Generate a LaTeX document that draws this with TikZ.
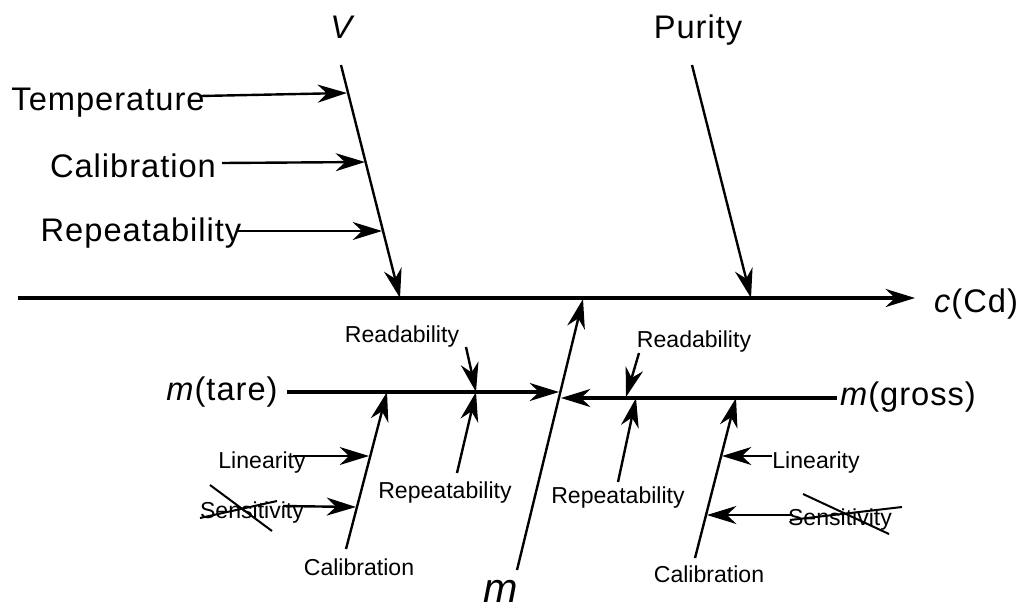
\documentclass[tikz,border=0pt]{standalone}
\usepackage{fontspec}
\setmainfont{Liberation Sans}
\newfontfamily\spacedfont[LetterSpace=3]{Liberation Sans}
\usetikzlibrary{arrows.meta}
\begin{document}
\begin{tikzpicture}[x=0.75pt,y=-0.75pt,
  big/.style={font=\spacedfont\fontsize{24.5}{28}\selectfont, anchor=base, inner sep=0pt},
  bigm/.style={font=\fontsize{31}{34}\selectfont\itshape, anchor=base, inner sep=0pt},
  small/.style={font=\fontsize{17.3}{20}\selectfont, anchor=base, inner sep=0pt},
  spine/.style={line width=2.8pt},
  bone/.style={line width=1.8pt},
  tip/.style={-{Stealth[length=22pt,width=13.5pt,inset=7pt]}},
  strike/.style={line width=1.5pt}]
\useasboundingbox (0,0) rectangle (1027,611);

% main spine
\coordinate (s0) at (18,298);
\coordinate (s1) at (915,298);
\draw[spine,tip] (s0) -- (s1);
\node[big] (cd) at (976,312) {\textit{c}(Cd)};

% V branch
\node[big] (V) at (343,38) {\textit{V}};
\coordinate (v0) at (341,65);
\coordinate (v1) at (400,298);
\draw[bone,tip] (v0) -- (v1);
\node[big] (temp) at (108,110) {Temperature};
\coordinate (tA) at (200,96);
\coordinate (tB) at (347,93);
\draw[bone,tip] (tA) -- (tB);
\node[big] (calV) at (133,177) {Calibration};
\coordinate (cA) at (222,163);
\coordinate (cB) at (365,162);
\draw[bone,tip] (cA) -- (cB);
\node[big] (repV) at (141,241) {Repeatability};
\coordinate (rA) at (238,231);
\coordinate (rB) at (382,231);
\draw[bone,tip] (rA) -- (rB);

% Purity branch
\node[big] (pur) at (698,38) {Purity};
\coordinate (p0) at (692,65);
\coordinate (p1) at (751,298);
\draw[bone,tip] (p0) -- (p1);

% m branch
\node[bigm] (m) at (501,602) {m};
\coordinate (m0) at (517,570);
\coordinate (m1) at (583,299);
\draw[bone,tip] (m0) -- (m1);

% m(tare)
\node[big] (tare) at (222,400) {\textit{m}(tare)};
\coordinate (ta0) at (287,392);
\coordinate (ta1) at (559,392);
\draw[spine,tip] (ta0) -- (ta1);
\node[small] (readL) at (402,342) {Readability};
\coordinate (rdL0) at (466,347);
\coordinate (rdL1) at (476,392);
\draw[bone,tip] (rdL0) -- (rdL1);
\node[small] (repL) at (445,498) {Repeatability};
\coordinate (rpL0) at (457,473);
\coordinate (rpL1) at (476,392);
\draw[bone,tip] (rpL0) -- (rpL1);
\node[small] (calL) at (359,575) {Calibration};
\coordinate (clL0) at (346,549);
\coordinate (clL1) at (387,392);
\draw[bone,tip] (clL0) -- (clL1);
\node[small] (linL) at (262,468) {Linearity};
\coordinate (lnL0) at (293,456);
\coordinate (lnL1) at (369,456);
\draw[bone,tip] (lnL0) -- (lnL1);
\node[small] (senL) at (252,518) {Sensitivity};
\coordinate (snL0) at (283,506);
\coordinate (snL1) at (356,507);
\draw[bone,tip] (snL0) -- (snL1);
\coordinate (xL1) at (210,485);
\coordinate (xL2) at (272,531);
\coordinate (xL3) at (200,518);
\coordinate (xL4) at (277,501);
\draw[strike] (xL1) -- (xL2);
\draw[strike] (xL3) -- (xL4);

% m(gross)
\node[big] (gross) at (908,405) {\textit{m}(gross)};
\coordinate (g0) at (837,398);
\coordinate (g1) at (561,398);
\draw[spine,tip] (g0) -- (g1);
\node[small] (readR) at (694,347) {Readability};
\coordinate (rdR0) at (639,353);
\coordinate (rdR1) at (626,397);
\draw[bone,tip] (rdR0) -- (rdR1);
\node[small] (repR) at (618,503) {Repeatability};
\coordinate (rpR0) at (618,482);
\coordinate (rpR1) at (636,398);
\draw[bone,tip] (rpR0) -- (rpR1);
\node[small] (calR) at (709,582) {Calibration};
\coordinate (clR0) at (695,558);
\coordinate (clR1) at (736,398);
\draw[bone,tip] (clR0) -- (clR1);
\node[small] (linR) at (816,468) {Linearity};
\coordinate (lnR0) at (772,456);
\coordinate (lnR1) at (722,456);
\draw[bone,tip] (lnR0) -- (lnR1);
\node[small] (senR) at (840,525) {Sensitivity};
\coordinate (snR0) at (793,515);
\coordinate (snR1) at (707,515);
\draw[bone,tip] (snR0) -- (snR1);
\coordinate (xR1) at (803,494);
\coordinate (xR2) at (889,534);
\coordinate (xR3) at (790,520);
\coordinate (xR4) at (902,507);
\draw[strike] (xR1) -- (xR2);
\draw[strike] (xR3) -- (xR4);
\end{tikzpicture}
\end{document}
